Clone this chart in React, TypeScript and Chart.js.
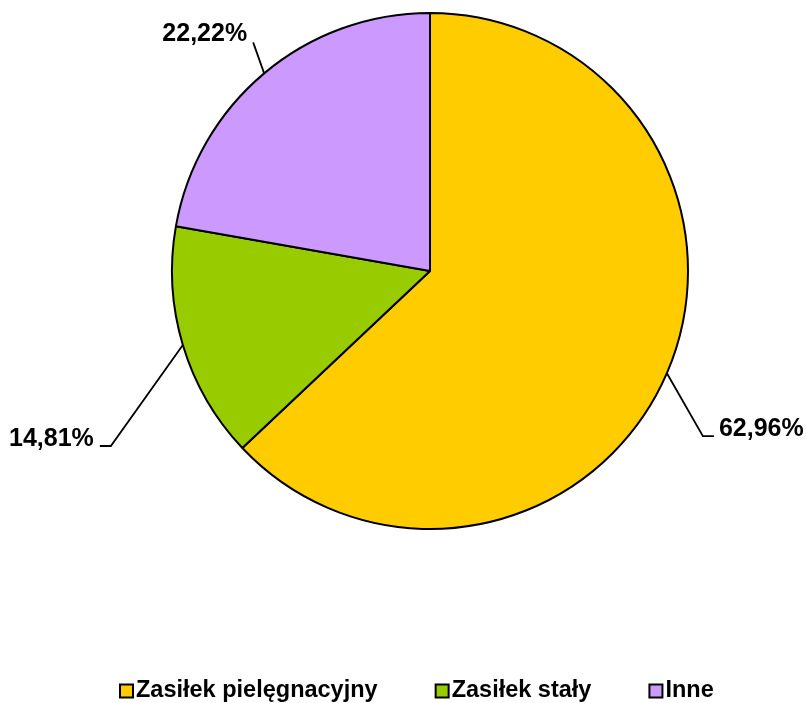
import React, { useEffect, useRef } from 'react';
import { Chart, registerables } from 'chart.js';

Chart.register(...registerables);

const categories = ['Zasiłek pielęgnacyjny', 'Zasiłek stały', 'Inne'];
const counts = [17, 4, 6];
const percentLabels = ['62,96%', '14,81%', '22,22%'];
const colors = ['#FFCC00', '#99CC00', '#CC99FF'];

// leader line styling per slice: elbow offset from slice edge, horizontal tail, text side
const leaders = [
  { dx: 36, dy: 63, tail: 11, align: 'left', tdy: -7 },
  { dx: -72, dy: 101, tail: -11, align: 'right', tdy: -7 },
  { dx: -11, dy: -31, tail: 0, align: 'right', tdy: -8 },
];

const LABEL_FONT = 'bold 25px "Liberation Sans", Arial, sans-serif';
const LEGEND_FONT = 'bold 23.5px "Liberation Sans", Arial, sans-serif';

const labelPlugin = {
  id: 'pieLabels',
  afterDatasetsDraw(chart: any) {
    const ctx = chart.ctx;
    const meta = chart.getDatasetMeta(0);
    ctx.save();
    ctx.strokeStyle = '#000';
    ctx.lineWidth = 1.8;
    ctx.fillStyle = '#000';
    ctx.font = LABEL_FONT;
    meta.data.forEach((arc: any, i: number) => {
      const { x, y, startAngle, endAngle, outerRadius } = arc.getProps(
        ['x', 'y', 'startAngle', 'endAngle', 'outerRadius'],
        true
      );
      const mid = (startAngle + endAngle) / 2;
      const ex = x + Math.cos(mid) * outerRadius;
      const ey = y + Math.sin(mid) * outerRadius;
      const L = leaders[i];
      const bx = ex + L.dx;
      const by = ey + L.dy;
      const tx = bx + L.tail;
      ctx.beginPath();
      ctx.moveTo(ex, ey);
      ctx.lineTo(bx, by);
      if (L.tail !== 0) ctx.lineTo(tx, by);
      ctx.stroke();
      ctx.textBaseline = 'middle';
      ctx.textAlign = L.align;
      const gap = L.align === 'left' ? 5 : -6;
      ctx.fillText(percentLabels[i], tx + gap, by + L.tdy);
    });
    ctx.restore();
  },
  afterDraw(chart: any) {
    const ctx = chart.ctx;
    ctx.save();
    ctx.font = LEGEND_FONT;
    ctx.textBaseline = 'middle';
    ctx.textAlign = 'left';
    let x = 120;
    const y = 691;
    const box = 13;
    categories.forEach((c, i) => {
      ctx.fillStyle = colors[i];
      ctx.fillRect(x, y - box / 2, box, box);
      ctx.strokeStyle = '#000';
      ctx.lineWidth = 2;
      ctx.strokeRect(x, y - box / 2, box, box);
      ctx.fillStyle = '#000';
      ctx.fillText(c, x + box + 3, y);
      const w = ctx.measureText(c).width;
      x += box + 3 + w + 58;
    });
    ctx.restore();
  },
};

export default function App() {
  const ref = useRef<HTMLCanvasElement | null>(null);
  useEffect(() => {
    if (!ref.current) return;
    const chart = new Chart(ref.current, {
      type: 'pie',
      data: {
        labels: categories,
        datasets: [
          {
            data: counts,
            backgroundColor: colors,
            borderColor: '#000',
            borderWidth: 2,
          },
        ],
      },
      options: {
        responsive: false,
        animation: false,
        layout: { padding: { left: 171, right: 118, top: 12, bottom: 173 } },
        plugins: {
          legend: { display: false },
          tooltip: { enabled: false },
        },
      },
      plugins: [labelPlugin],
    });
    return () => chart.destroy();
  }, []);
  return (
    <div style={{ position: 'absolute', left: 0, top: 0, width: 807, height: 703, background: '#fff' }}>
      <canvas ref={ref} width={807} height={703} />
    </div>
  );
}
